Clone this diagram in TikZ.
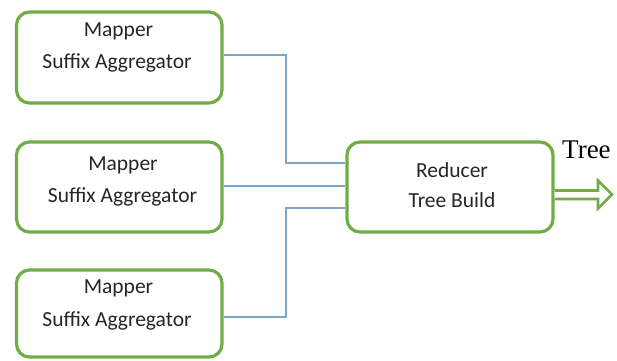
\documentclass[tikz,border=0pt]{standalone}
\usepackage{fontspec}
\setmainfont{Carlito}
\newfontfamily\serifname{Liberation Serif}
\definecolor{boxgreen}{RGB}{112,173,71}
\definecolor{linkblue}{RGB}{125,166,204}
\definecolor{txt}{RGB}{38,38,38}
\tikzset{
  procbox/.style={draw=boxgreen, line width=3.2pt, rounded corners=13pt, fill=white, inner sep=0pt},
  lbl/.style={font=\fontsize{21.5}{26}\selectfont, text=txt, anchor=base, inner sep=0pt},
  link/.style={draw=linkblue, line width=1.4pt},
  outarrow/.style={draw=boxgreen, line width=2.6pt, fill=white, line join=miter},
}
\begin{document}
\begin{tikzpicture}[x=1pt,y=-1pt]
\useasboundingbox (0,0) rectangle (617,360);
% boxes
\node[procbox, minimum width=205.5pt, minimum height=91pt] (m1) at (119.25,57.5) {};
\node[procbox, minimum width=205.5pt, minimum height=90pt] (m2) at (119.25,187) {};
\node[procbox, minimum width=205.5pt, minimum height=87pt] (m3) at (119.25,313.5) {};
\node[procbox, minimum width=206pt, minimum height=90pt] (red) at (450,187) {};
% texts
\node[lbl] (m1a) at (118.5,36) {Mapper};
\node[lbl] (m1b) at (117,68) {Suffix Aggregator};
\node[lbl] (m2a) at (123,170) {Mapper};
\node[lbl] (m2b) at (122.5,202) {Suffix Aggregator};
\node[lbl] (m3a) at (118.5,293) {Mapper};
\node[lbl] (m3b) at (117,326) {Suffix Aggregator};
\node[lbl] (ra) at (452,177) {Reducer};
\node[lbl] (rb) at (452,207) {Tree Build};
% connectors
\coordinate (j1) at (286,55);
\coordinate (j3) at (286,317);
\draw[link] (m1.east |- j1) -| (286,163) -- (red.west |- 0,163);
\draw[link] (m2.east |- 0,186) -- (red.west |- 0,186);
\draw[link] (m3.east |- j3) -| (286,208) -- (red.west |- 0,208);
% output arrow
\coordinate (tip) at (612,194.5);
\draw[outarrow] (red.east |- 0,190.5) -- (598,190.5) -- (598,180.5) -- (tip)
  -- (598,208.5) -- (598,199) -- (red.east |- 0,199);
\node[font=\serifname\fontsize{27}{30}\selectfont, anchor=base west, inner sep=0pt] (treelbl) at (562,158) {Tree};
\end{tikzpicture}
\end{document}
